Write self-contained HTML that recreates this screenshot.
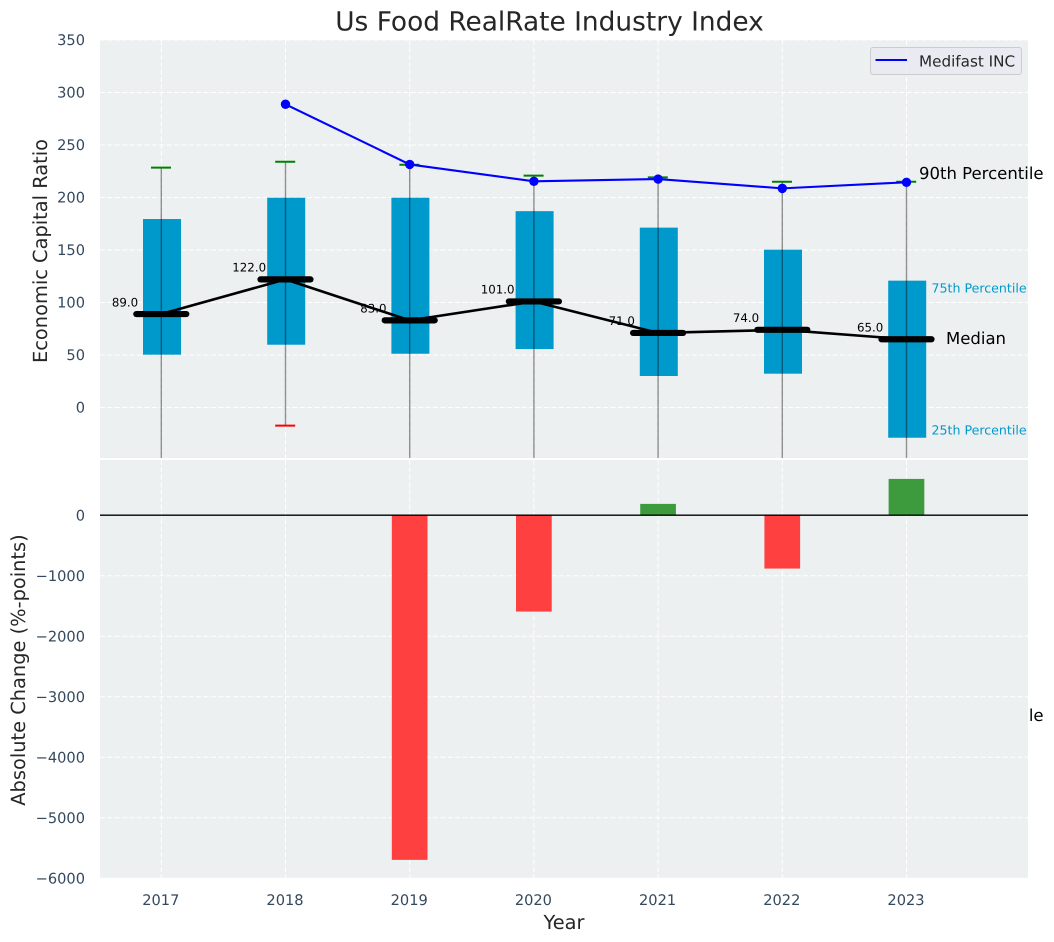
<!DOCTYPE html>
<html lang="en">
<head>
<meta charset="utf-8">
<title>Us Food RealRate Industry Index</title>
<style>
html,body{margin:0;padding:0;background:#fff;width:1054px;height:942px;overflow:hidden}
svg{display:block}
text{font-family:"DejaVu Sans","Liberation Sans",sans-serif;text-rendering:geometricPrecision}
</style>
</head>
<body>
<svg id="chart" width="1054" height="942" viewBox="0 0 1054 942" xmlns="http://www.w3.org/2000/svg">
  <defs>
    <clipPath id="top-clip"><rect x="100" y="40" width="928" height="418"/></clipPath>
  </defs>
  <text x="549.5" y="30.5" text-anchor="middle" font-size="26.4" fill="#262626">Us Food RealRate Industry Index</text>
  <text x="919" y="721" font-size="16.5" fill="#000">90th Percentile</text>
  <rect x="100" y="40" width="928" height="418" fill="#ecf0f1"/>
  <rect x="100" y="460" width="928" height="418" fill="#ecf0f1"/>
  <g id="grid"></g>
  <g id="ticks"></g>
  <g id="boxes" clip-path="url(#top-clip)"></g>
  <g id="value-labels"></g>
  <g id="medians" clip-path="url(#top-clip)"></g>
  <g id="company"></g>
  <g id="bars"></g>
  <line x1="100" x2="1028" y1="515.2" y2="515.2" stroke="#000" stroke-width="1.4"/>

  <text transform="translate(47,251) rotate(-90)" text-anchor="middle" font-size="19.4" fill="#262626">Economic Capital Ratio</text>
  <text transform="translate(25,670) rotate(-90)" text-anchor="middle" font-size="19.4" fill="#262626">Absolute Change (%-points)</text>
  <text x="564" y="929" text-anchor="middle" font-size="19.4" fill="#262626">Year</text>

  <text x="919" y="179" font-size="16.5" fill="#000">90th Percentile</text>
  <text x="946" y="344" font-size="16.5" fill="#000">Median</text>
  <text x="931.5" y="292.5" font-size="12.6" fill="#0099cc">75th Percentile</text>
  <text x="931.5" y="434.5" font-size="12.6" fill="#0099cc">25th Percentile</text>

  <g>
    <rect x="870.5" y="47.5" width="151" height="27" rx="2.5" fill="#eaeaf2" fill-opacity="0.8" stroke="#cccccc" stroke-width="1"/>
    <line x1="875.5" x2="907" y1="60" y2="60" stroke="#0000ff" stroke-width="2.1"/>
    <text x="919" y="66.3" font-size="15.2" fill="#262626">Medifast INC</text>
  </g>
</svg>
<script>
const years = [2017, 2018, 2019, 2020, 2021, 2022, 2023];
const q75 = [179.5, 199.8, 199.8, 187, 171.3, 150.3, 120.8];
const q25 = [50.3, 59.8, 51.2, 55.7, 30, 32.2, -28.8];
const medians = [89, 122, 83, 101, 71, 74, 65];
const p90 = [228.4, 234, 231.2, 220.8, 219.2, 215, 215];
const p10 = [-70, -17.3, -65, -60, -75, -70, -90];
const company = [null, 288.8, 231.5, 215.4, 217.6, 208.7, 214.5];
const changes = [null, null, -5697, -1593, 187, -882, 600];
const topTicks = [0, 50, 100, 150, 200, 250, 300, 350];
const bottomTicks = [0, -1000, -2000, -3000, -4000, -5000, -6000];

const SVG_NS = 'http://www.w3.org/2000/svg';
const xAxis = function (year) { return 161.3 + 124.2 * (year - 2017); };
const unitW = 124.2;
const yTop = function (v) { return 407.5 - 1.05 * v; };
const yBottom = function (v) { return 515.2 - 0.0605 * v; };

function make(tag, parent, geometry) {
  const node = document.createElementNS(SVG_NS, tag);
  Object.keys(geometry).forEach(function (k) { node.setAttribute(k, geometry[k]); });
  parent.appendChild(node);
  return node;
}
function fmtTick(v) { return v < 0 ? '\u2212' + Math.abs(v) : String(v); }

const gridG = document.getElementById('grid');
const ticksG = document.getElementById('ticks');
const boxesG = document.getElementById('boxes');
const labelsG = document.getElementById('value-labels');
const mediansG = document.getElementById('medians');
const companyG = document.getElementById('company');
const barsG = document.getElementById('bars');
const gridStyle = { stroke: '#ffffff', 'stroke-width': 1, 'stroke-dasharray': '5 2.4' };

topTicks.forEach(function (t) {
  const line = make('line', gridG, Object.assign({ x1: 100, x2: 1028, y1: yTop(t), y2: yTop(t) }, gridStyle));
  
  
  const label = make('text', ticksG, { x: 85, y: yTop(t) + 5.2, 'text-anchor': 'end', 'font-size': 14.6, fill: '#34495e' });
  label.textContent = fmtTick(t);
  
  
});
bottomTicks.forEach(function (t) {
  const line = make('line', gridG, Object.assign({ x1: 100, x2: 1028, y1: yBottom(t), y2: yBottom(t) }, gridStyle));
  
  
  const label = make('text', ticksG, { x: 85, y: yBottom(t) + 5.2, 'text-anchor': 'end', 'font-size': 14.6, fill: '#34495e' });
  label.textContent = fmtTick(t);
  
  
});

years.forEach(function (year, i) {
  const x = xAxis(year);

  const gridTop = make('line', gridG, Object.assign({ x1: x, x2: x, y1: 40, y2: 458 }, gridStyle));
  
  
  const gridBottom = make('line', gridG, Object.assign({ x1: x, x2: x, y1: 460, y2: 878 }, gridStyle));
  
  

  const tick = make('text', ticksG, { x: x - 0.5, y: 905, 'text-anchor': 'middle', 'font-size': 14.6, fill: '#34495e' });
  tick.textContent = String(year);
  
  

  const box = make('rect', boxesG, {
    x: x + 0.7 - 0.153 * unitW,
    y: yTop(q75[i]),
    width: 0.306 * unitW,
    height: yTop(q25[i]) - yTop(q75[i]),
    fill: '#0099cc'
  });
  
  

  const whisker = make('line', boxesG, { x1: x, x2: x, y1: yTop(p90[i]), y2: yTop(p10[i]), stroke: '#000', 'stroke-opacity': 0.42, 'stroke-width': 1.4 });
  
  

  const capHigh = make('line', boxesG, { x1: x - 10.3, x2: x + 9.7, y1: yTop(p90[i]), y2: yTop(p90[i]), stroke: '#008000', 'stroke-width': 2 });
  
  

  const capLow = make('line', boxesG, { x1: x - 10.3, x2: x + 9.7, y1: yTop(p10[i]), y2: yTop(p10[i]), stroke: '#ff0000', 'stroke-width': 2 });
  
  

  const valueLabel = make('text', labelsG, { x: x - 36.3, y: yTop(medians[i]) - 7.8, 'text-anchor': 'middle', 'font-size': 11.8, fill: '#000' });
  valueLabel.textContent = medians[i].toFixed(1);
  
  
});

const medianLine = make('polyline', mediansG, {
  points: years.map(function (y, i) { return xAxis(y) + ',' + yTop(medians[i]); }).join(' '),
  fill: 'none', stroke: '#000', 'stroke-width': 2.6, 'stroke-linejoin': 'round'
});



years.forEach(function (year, i) {
  const x = xAxis(year);
  const bar = make('line', mediansG, { x1: x - 25, x2: x + 25, y1: yTop(medians[i]), y2: yTop(medians[i]), stroke: '#000', 'stroke-width': 6.2, 'stroke-linecap': 'round' });
  
  
});

const companyYears = years.filter(function (y, i) { return company[i] !== null; });
const companyValues = company.filter(function (v) { return v !== null; });
const companyLine = make('polyline', companyG, {
  points: companyYears.map(function (y, i) { return xAxis(y) + ',' + yTop(companyValues[i]); }).join(' '),
  fill: 'none', stroke: '#0000ff', 'stroke-width': 2.1
});



companyYears.forEach(function (year, i) {
  const dot = make('circle', companyG, { cx: xAxis(year), cy: yTop(companyValues[i]), r: 4.7, fill: '#0000ff' });
  
  
});

years.forEach(function (year, i) {
  if (changes[i] === null) { return; }
  const v = changes[i];
  const top = Math.min(yBottom(0), yBottom(v));
  const rect = make('rect', barsG, {
    x: xAxis(year) - 0.144 * unitW,
    y: top,
    width: 0.2875 * unitW,
    height: Math.abs(yBottom(v) - yBottom(0)),
    fill: v < 0 ? '#ff4040' : '#3d9b3d'
  });
  
  
});
</script>
</body>
</html>
